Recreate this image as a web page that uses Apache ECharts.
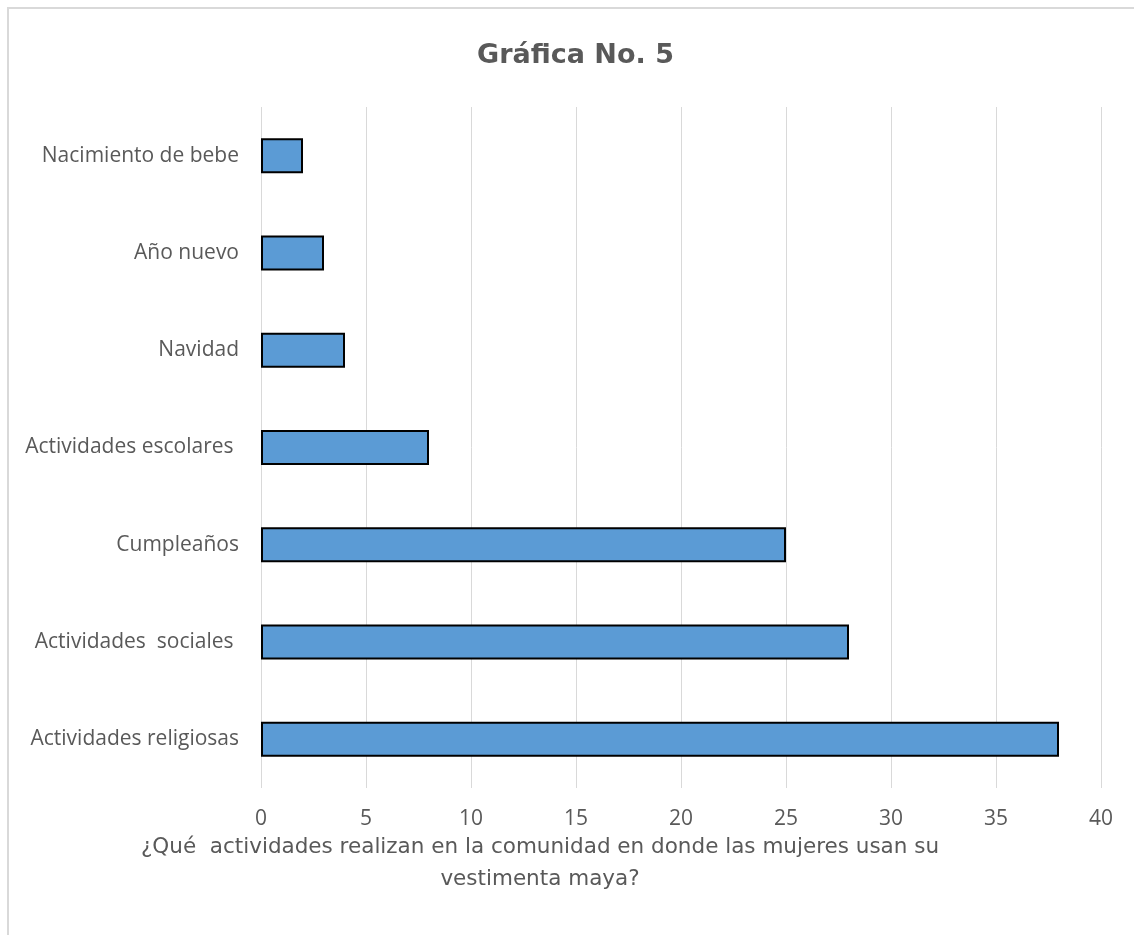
<!DOCTYPE html>
<html>
<head>
<meta charset="utf-8">
<script src="https://cdn.jsdelivr.net/npm/echarts@6/dist/echarts.min.js"></script>
<style>html,body{margin:0;padding:0;background:#fff}#c{width:1134px;height:935px}</style>
</head>
<body>
<div id="c"></div>
<script>
const categories = ['Actividades religiosas', 'Actividades  sociales ', 'Cumpleaños', 'Actividades escolares ', 'Navidad', 'Año nuevo', 'Nacimiento de bebe'];
const values = [38, 28, 25, 8, 4, 3, 2];
const titleText = 'Gráfica No. 5';
const axisNameLines = ['¿Qué  actividades realizan en la comunidad en donde las mujeres usan su', 'vestimenta maya?'];
const xMin = 0, xMax = 40, xInterval = 5;

const FONT = '"Open Sans"';
const GRAY = '#595959';
const chart = echarts.init(document.getElementById('c'));
chart.setOption({
  backgroundColor: '#fff',
  animation: false,
  title: {
    text: titleText,
    left: 472,
    top: 37,
    padding: 5,
    textStyle: { fontFamily: '"DejaVu Sans"', fontSize: 27, fontWeight: 'bold', color: GRAY }
  },
  graphic: [
    {
      type: 'rect',
      shape: { x: 8, y: 8, width: 1300, height: 1100 },
      style: { fill: 'none', stroke: '#d9d9d9', lineWidth: 2 },
      silent: true, z: -1
    },
    {
      type: 'text',
      x: 540, y: 831,
      style: {
        text: axisNameLines.join('\n'),
        textAlign: 'center',
        textVerticalAlign: 'top',
        fontFamily: '"DejaVu Sans"', fontSize: 21.5, lineHeight: 32, fill: GRAY
      }
    }
  ],
  grid: { left: 261, right: 33, top: 107, bottom: 147, containLabel: false },
  xAxis: {
    type: 'value',
    min: xMin, max: xMax, interval: xInterval,
    axisLine: { show: false },
    axisTick: { show: false },
    splitLine: { show: true, lineStyle: { color: '#d9d9d9', width: 1 } },
    axisLabel: { color: GRAY, fontFamily: FONT, fontSize: 21, margin: 21 }
  },
  yAxis: {
    type: 'category',
    data: categories,
    axisLine: { show: false },
    axisTick: { show: false },
    axisLabel: { color: GRAY, fontFamily: FONT, fontSize: 21, margin: 22 }
  },
  series: [{
    type: 'bar',
    data: values,
    barWidth: '36%',
    itemStyle: { color: '#5B9BD5', borderColor: '#000', borderWidth: 2 }
  }]
});
</script>
</body>
</html>
